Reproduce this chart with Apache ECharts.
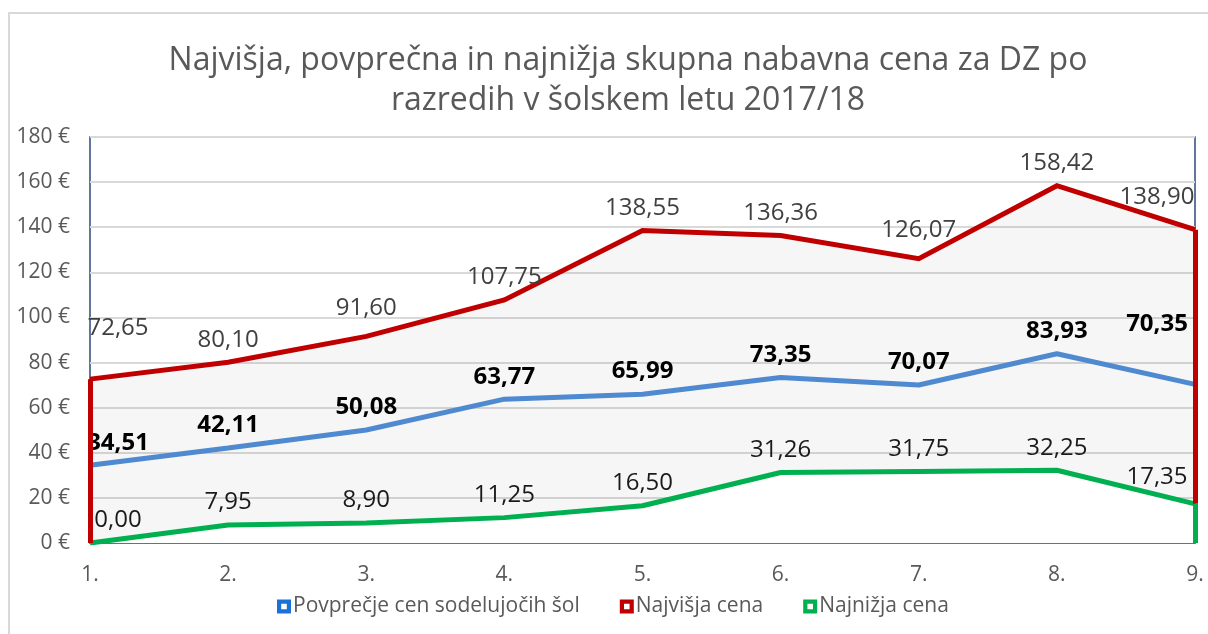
<html>
<head>
    <meta charset="utf-8">
    <title>Nabavna cena za DZ</title>
    <script src="https://cdn.jsdelivr.net/npm/echarts@6/dist/echarts.min.js"></script>
    <style>
        body { margin: 0; background: #fff; }
    </style>
</head>
<body>
<div id="chart" style="width: 1208px; height: 634px"></div>
<script>
    // podatki (razredi in cene)
    var categories = ['1.', '2.', '3.', '4.', '5.', '6.', '7.', '8.', '9.'];
    var avgValues = [34.51, 42.11, 50.08, 63.77, 65.99, 73.35, 70.07, 83.93, 70.35];
    var maxValues = [72.65, 80.10, 91.60, 107.75, 138.55, 136.36, 126.07, 158.42, 138.90];
    var minValues = [0.00, 7.95, 8.90, 11.25, 16.50, 31.26, 31.75, 32.25, 17.35];
    var seriesNames = ['Povprečje cen sodelujočih šol', 'Najvišja cena', 'Najnižja cena'];
    var yMin = 0, yMax = 180, yStep = 20;

    var fontFam = '"Open Sans", sans-serif';
    var last = categories.length - 1;

    function fmt(v) {
        return v.toFixed(2).replace('.', ',');
    }

    // robne oznake premaknemo v notranjost (kot v Excelu)
    function edgeLayout(extraY) {
        return function (params) {
            var i = params.dataIndex;
            var dx = 0, dy = extraY[i] || 0;
            if (i === 0) dx = 28;
            if (i === last) dx = -38;
            return { dx: dx, dy: dy, hideOverlap: false };
        };
    }

    var iconPath = 'path://M0,0h10v10h-10z M3,3v4h4v-4z';

    var option = {
        backgroundColor: '#fff',
        animation: false,
        title: {
            text: 'Najvišja, povprečna in najnižja skupna nabavna cena za DZ po\nrazredih v šolskem letu 2017/18',
            left: 623,
            top: 36,
            textAlign: 'center',
            textStyle: {
                fontFamily: fontFam,
                fontSize: 32,
                fontWeight: 'normal',
                color: '#595959',
                lineHeight: 40
            }
        },
        graphic: [{
            type: 'rect',
            z: -10,
            shape: { x: 9, y: 13, width: 1300, height: 700 },
            style: { fill: 'none', stroke: '#d9d9d9', lineWidth: 2 }
        }],
        legend: {
            left: 272,
            top: 591,
            itemWidth: 14,
            itemHeight: 14,
            itemGap: 40,
            textStyle: { fontFamily: fontFam, fontSize: 21, color: '#595959', padding: [0, 0, 0, -3] },
            data: [
                { name: seriesNames[0], icon: iconPath, itemStyle: { color: '#1a72d6' } },
                { name: seriesNames[1], icon: iconPath, itemStyle: { color: '#c00000' } },
                { name: seriesNames[2], icon: iconPath, itemStyle: { color: '#00b050' } }
            ]
        },
        grid: {
            left: 90,
            right: 13,
            top: 137,
            bottom: 91,
            show: true,
            borderColor: '#2f4a7c',
            borderWidth: 1.5,
            backgroundColor: 'transparent'
        },
        xAxis: {
            type: 'category',
            boundaryGap: false,
            data: categories,
            axisLine: { show: true, lineStyle: { color: '#00b050', width: 2 } },
            axisTick: { show: false },
            axisLabel: { margin: 22, fontFamily: fontFam, fontSize: 21, color: '#595959' },
            splitLine: { show: false }
        },
        yAxis: {
            type: 'value',
            min: yMin,
            max: yMax,
            interval: yStep,
            axisLine: { show: false },
            axisTick: { show: false },
            axisLabel: {
                margin: 20,
                fontFamily: fontFam,
                fontSize: 21,
                color: '#595959',
                formatter: '{value} €'
            },
            splitLine: { lineStyle: { color: '#d9d9d9', width: 2 } }
        },
        series: [
            {
                name: seriesNames[1],
                type: 'line',
                z: 2,
                symbol: 'circle',
                symbolSize: 1,
                showSymbol: true,
                color: '#c00000',
                data: maxValues,
                lineStyle: { color: '#c00000', width: 5, join: 'miter' },
                areaStyle: { color: 'rgba(0,0,0,0.05)', origin: 'start' },
                label: {
                    show: true,
                    position: 'top',
                    distance: 10,
                    fontFamily: fontFam,
                    fontSize: 24,
                    color: '#404040',
                    formatter: function (p) { return fmt(p.value); }
                },
                labelLayout: edgeLayout({ 0: -28, 2: -6, 6: -6, 8: -10 }),
                markLine: {
                    silent: true,
                    symbol: 'none',
                    label: { show: false },
                    lineStyle: { color: '#c00000', width: 5, type: 'solid' },
                    data: [
                        [{ coord: [categories[0], maxValues[0]] }, { coord: [categories[0], minValues[0]] }],
                        [{ coord: [categories[last], maxValues[last]] }, { coord: [categories[last], minValues[last]] }]
                    ]
                }
            },
            {
                name: seriesNames[2],
                type: 'line',
                z: 3,
                symbol: 'circle',
                symbolSize: 1,
                showSymbol: true,
                color: '#00b050',
                data: minValues,
                lineStyle: { color: '#00b050', width: 5 },
                areaStyle: { color: '#ffffff', opacity: 1, origin: 'start' },
                label: {
                    show: true,
                    position: 'top',
                    distance: 10,
                    fontFamily: fontFam,
                    fontSize: 24,
                    color: '#1a1a1a',
                    formatter: function (p) { return fmt(p.value); }
                },
                labelLayout: edgeLayout({ 8: -4 }),
                markLine: {
                    silent: true,
                    symbol: 'none',
                    label: { show: false },
                    lineStyle: { color: '#00b050', width: 5, type: 'solid' },
                    data: [
                        [{ coord: [categories[last], minValues[last]] }, { coord: [categories[last], yMin] }]
                    ]
                }
            },
            {
                name: seriesNames[0],
                type: 'line',
                z: 4,
                symbol: 'circle',
                symbolSize: 1,
                showSymbol: true,
                color: '#4f89d0',
                data: avgValues,
                lineStyle: { color: '#4f89d0', width: 5 },
                label: {
                    show: true,
                    position: 'top',
                    distance: 10,
                    fontFamily: fontFam,
                    fontSize: 24,
                    fontWeight: 'bold',
                    color: '#000',
                    formatter: function (p) { return fmt(p.value); }
                },
                labelLayout: edgeLayout({ 8: -38 })
            }
        ]
    };

    var chart = echarts.init(document.getElementById('chart'));
    chart.setOption(option);
</script>
</body>
</html>
